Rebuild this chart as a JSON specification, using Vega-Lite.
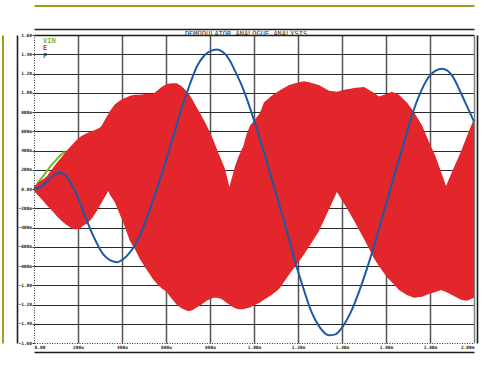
{
  "$schema": "https://vega.github.io/schema/vega-lite/v6.json",
  "width": 440,
  "height": 308,
  "autosize": {"type": "none"},
  "padding": {"left": 34, "top": 35, "right": 12, "bottom": 26},
  "background": "#ffffff",
  "title": {"text": "DEMODULATOR ANALOGUE ANALYSIS", "font": "DejaVu Sans Mono", "fontSize": 7, "fontWeight": "normal", "color": "#333333", "offset": 1, "dx": -8, "dy": 32.5, "anchor": "middle"},
  "config": {"view": {"stroke": null}},
  "datasets": {
    "vin": [
      {"t": 0, "v": 0.0, "series": "VIN"},
      {"t": 20, "v": 0.07, "series": "VIN"},
      {"t": 40, "v": 0.13, "series": "VIN"},
      {"t": 60, "v": 0.19, "series": "VIN"},
      {"t": 80, "v": 0.25, "series": "VIN"},
      {"t": 100, "v": 0.30, "series": "VIN"},
      {"t": 120, "v": 0.35, "series": "VIN"},
      {"t": 140, "v": 0.39, "series": "VIN"}
    ],
    "e": [
      {"t": 0, "hi": 0.02, "lo": -0.02, "series": "E"},
      {"t": 20, "hi": 0.07, "lo": -0.07, "series": "E"},
      {"t": 40, "hi": 0.10, "lo": -0.12, "series": "E"},
      {"t": 58, "hi": 0.13, "lo": -0.17, "series": "E"},
      {"t": 80, "hi": 0.20, "lo": -0.22, "series": "E"},
      {"t": 103, "hi": 0.27, "lo": -0.28, "series": "E"},
      {"t": 125, "hi": 0.33, "lo": -0.33, "series": "E"},
      {"t": 141, "hi": 0.38, "lo": -0.36, "series": "E"},
      {"t": 165, "hi": 0.44, "lo": -0.40, "series": "E"},
      {"t": 186, "hi": 0.49, "lo": -0.42, "series": "E"},
      {"t": 209, "hi": 0.54, "lo": -0.41, "series": "E"},
      {"t": 224, "hi": 0.56, "lo": -0.38, "series": "E"},
      {"t": 240, "hi": 0.58, "lo": -0.36, "series": "E"},
      {"t": 262, "hi": 0.60, "lo": -0.31, "series": "E"},
      {"t": 285, "hi": 0.62, "lo": -0.23, "series": "E"},
      {"t": 300, "hi": 0.64, "lo": -0.17, "series": "E"},
      {"t": 308, "hi": 0.66, "lo": -0.14, "series": "E"},
      {"t": 325, "hi": 0.73, "lo": -0.07, "series": "E"},
      {"t": 338, "hi": 0.78, "lo": -0.02, "series": "E"},
      {"t": 345, "hi": 0.81, "lo": -0.06, "series": "E"},
      {"t": 368, "hi": 0.88, "lo": -0.14, "series": "E"},
      {"t": 391, "hi": 0.92, "lo": -0.27, "series": "E"},
      {"t": 406, "hi": 0.94, "lo": -0.35, "series": "E"},
      {"t": 420, "hi": 0.95, "lo": -0.44, "series": "E"},
      {"t": 436, "hi": 0.97, "lo": -0.54, "series": "E"},
      {"t": 460, "hi": 0.98, "lo": -0.63, "series": "E"},
      {"t": 482, "hi": 0.98, "lo": -0.73, "series": "E"},
      {"t": 510, "hi": 0.99, "lo": -0.83, "series": "E"},
      {"t": 542, "hi": 0.99, "lo": -0.94, "series": "E"},
      {"t": 565, "hi": 1.03, "lo": -1.00, "series": "E"},
      {"t": 580, "hi": 1.06, "lo": -1.03, "series": "E"},
      {"t": 603, "hi": 1.09, "lo": -1.07, "series": "E"},
      {"t": 626, "hi": 1.10, "lo": -1.14, "series": "E"},
      {"t": 648, "hi": 1.10, "lo": -1.20, "series": "E"},
      {"t": 670, "hi": 1.07, "lo": -1.24, "series": "E"},
      {"t": 701, "hi": 1.00, "lo": -1.27, "series": "E"},
      {"t": 720, "hi": 0.93, "lo": -1.26, "series": "E"},
      {"t": 739, "hi": 0.85, "lo": -1.23, "series": "E"},
      {"t": 755, "hi": 0.79, "lo": -1.21, "series": "E"},
      {"t": 785, "hi": 0.66, "lo": -1.16, "series": "E"},
      {"t": 815, "hi": 0.51, "lo": -1.13, "series": "E"},
      {"t": 830, "hi": 0.42, "lo": -1.13, "series": "E"},
      {"t": 850, "hi": 0.31, "lo": -1.14, "series": "E"},
      {"t": 868, "hi": 0.21, "lo": -1.17, "series": "E"},
      {"t": 880, "hi": 0.10, "lo": -1.19, "series": "E"},
      {"t": 888, "hi": 0.02, "lo": -1.20, "series": "E"},
      {"t": 900, "hi": 0.12, "lo": -1.22, "series": "E"},
      {"t": 914, "hi": 0.24, "lo": -1.24, "series": "E"},
      {"t": 930, "hi": 0.34, "lo": -1.25, "series": "E"},
      {"t": 952, "hi": 0.45, "lo": -1.25, "series": "E"},
      {"t": 965, "hi": 0.56, "lo": -1.24, "series": "E"},
      {"t": 982, "hi": 0.66, "lo": -1.23, "series": "E"},
      {"t": 1000, "hi": 0.71, "lo": -1.21, "series": "E"},
      {"t": 1027, "hi": 0.79, "lo": -1.18, "series": "E"},
      {"t": 1045, "hi": 0.90, "lo": -1.15, "series": "E"},
      {"t": 1080, "hi": 0.97, "lo": -1.10, "series": "E"},
      {"t": 1114, "hi": 1.02, "lo": -1.04, "series": "E"},
      {"t": 1159, "hi": 1.08, "lo": -0.89, "series": "E"},
      {"t": 1205, "hi": 1.11, "lo": -0.75, "series": "E"},
      {"t": 1227, "hi": 1.12, "lo": -0.68, "series": "E"},
      {"t": 1250, "hi": 1.11, "lo": -0.60, "series": "E"},
      {"t": 1295, "hi": 1.08, "lo": -0.44, "series": "E"},
      {"t": 1341, "hi": 1.02, "lo": -0.21, "series": "E"},
      {"t": 1377, "hi": 1.01, "lo": -0.03, "series": "E"},
      {"t": 1409, "hi": 1.03, "lo": -0.15, "series": "E"},
      {"t": 1432, "hi": 1.04, "lo": -0.24, "series": "E"},
      {"t": 1455, "hi": 1.05, "lo": -0.33, "series": "E"},
      {"t": 1500, "hi": 1.06, "lo": -0.52, "series": "E"},
      {"t": 1545, "hi": 1.00, "lo": -0.72, "series": "E"},
      {"t": 1568, "hi": 0.96, "lo": -0.80, "series": "E"},
      {"t": 1605, "hi": 0.99, "lo": -0.92, "series": "E"},
      {"t": 1627, "hi": 1.01, "lo": -0.97, "series": "E"},
      {"t": 1659, "hi": 0.98, "lo": -1.05, "series": "E"},
      {"t": 1695, "hi": 0.90, "lo": -1.10, "series": "E"},
      {"t": 1727, "hi": 0.80, "lo": -1.13, "series": "E"},
      {"t": 1764, "hi": 0.66, "lo": -1.12, "series": "E"},
      {"t": 1795, "hi": 0.49, "lo": -1.09, "series": "E"},
      {"t": 1825, "hi": 0.34, "lo": -1.07, "series": "E"},
      {"t": 1850, "hi": 0.18, "lo": -1.05, "series": "E"},
      {"t": 1873, "hi": 0.03, "lo": -1.07, "series": "E"},
      {"t": 1900, "hi": 0.18, "lo": -1.10, "series": "E"},
      {"t": 1941, "hi": 0.39, "lo": -1.15, "series": "E"},
      {"t": 1968, "hi": 0.55, "lo": -1.16, "series": "E"},
      {"t": 2000, "hi": 0.73, "lo": -1.13, "series": "E"}
    ],
    "f": [
      {"t": 0, "v": 0.0, "series": "F"},
      {"t": 30, "v": 0.02, "series": "F"},
      {"t": 60, "v": 0.08, "series": "F"},
      {"t": 90, "v": 0.14, "series": "F"},
      {"t": 115, "v": 0.17, "series": "F"},
      {"t": 140, "v": 0.15, "series": "F"},
      {"t": 165, "v": 0.07, "series": "F"},
      {"t": 190, "v": -0.04, "series": "F"},
      {"t": 225, "v": -0.24, "series": "F"},
      {"t": 270, "v": -0.49, "series": "F"},
      {"t": 315, "v": -0.68, "series": "F"},
      {"t": 345, "v": -0.74, "series": "F"},
      {"t": 376, "v": -0.76, "series": "F"},
      {"t": 405, "v": -0.73, "series": "F"},
      {"t": 435, "v": -0.66, "series": "F"},
      {"t": 467, "v": -0.55, "series": "F"},
      {"t": 500, "v": -0.38, "series": "F"},
      {"t": 527, "v": -0.21, "series": "F"},
      {"t": 560, "v": 0.01, "series": "F"},
      {"t": 588, "v": 0.21, "series": "F"},
      {"t": 620, "v": 0.45, "series": "F"},
      {"t": 648, "v": 0.66, "series": "F"},
      {"t": 675, "v": 0.87, "series": "F"},
      {"t": 701, "v": 1.04, "series": "F"},
      {"t": 740, "v": 1.27, "series": "F"},
      {"t": 780, "v": 1.40, "series": "F"},
      {"t": 810, "v": 1.44, "series": "F"},
      {"t": 833, "v": 1.45, "series": "F"},
      {"t": 860, "v": 1.42, "series": "F"},
      {"t": 886, "v": 1.35, "series": "F"},
      {"t": 915, "v": 1.22, "series": "F"},
      {"t": 947, "v": 1.06, "series": "F"},
      {"t": 985, "v": 0.82, "series": "F"},
      {"t": 1023, "v": 0.55, "series": "F"},
      {"t": 1060, "v": 0.27, "series": "F"},
      {"t": 1100, "v": -0.05, "series": "F"},
      {"t": 1140, "v": -0.36, "series": "F"},
      {"t": 1180, "v": -0.70, "series": "F"},
      {"t": 1220, "v": -1.00, "series": "F"},
      {"t": 1260, "v": -1.27, "series": "F"},
      {"t": 1300, "v": -1.44, "series": "F"},
      {"t": 1340, "v": -1.52, "series": "F"},
      {"t": 1370, "v": -1.51, "series": "F"},
      {"t": 1400, "v": -1.44, "series": "F"},
      {"t": 1440, "v": -1.28, "series": "F"},
      {"t": 1480, "v": -1.05, "series": "F"},
      {"t": 1520, "v": -0.78, "series": "F"},
      {"t": 1560, "v": -0.48, "series": "F"},
      {"t": 1600, "v": -0.16, "series": "F"},
      {"t": 1640, "v": 0.16, "series": "F"},
      {"t": 1680, "v": 0.47, "series": "F"},
      {"t": 1720, "v": 0.78, "series": "F"},
      {"t": 1760, "v": 1.02, "series": "F"},
      {"t": 1800, "v": 1.18, "series": "F"},
      {"t": 1855, "v": 1.25, "series": "F"},
      {"t": 1900, "v": 1.18, "series": "F"},
      {"t": 1940, "v": 1.00, "series": "F"},
      {"t": 1970, "v": 0.85, "series": "F"},
      {"t": 2000, "v": 0.70, "series": "F"}
    ]
  },
  "resolve": {"axis": {"x": "independent", "y": "independent"}},
  "layer": [
    {
      "data": {"name": "f"},
      "mark": {"type": "point", "opacity": 0},
      "encoding": {
        "x": {"field": "t", "type": "quantitative", "scale": {"domain": [0, 2000], "nice": false, "zero": false},
          "axis": {"orient": "bottom", "offset": 9, "title": null, "labels": false, "ticks": false, "grid": false, "domain": true, "domainColor": "#1e1e1e", "domainWidth": 1.6}},
        "y": {"field": "v", "type": "quantitative", "scale": {"domain": [-1.6, 1.6], "nice": false, "zero": false},
          "axis": {"orient": "left", "offset": 17, "title": null, "labels": false, "ticks": false, "grid": false, "domain": true, "domainColor": "#1e1e1e", "domainWidth": 1.6}}
      }
    },
    {
      "data": {"name": "f"},
      "mark": {"type": "point", "opacity": 0},
      "encoding": {
        "x": {"field": "t", "type": "quantitative",
          "axis": {"orient": "top", "offset": 6, "title": null, "labels": false, "ticks": false, "grid": false, "domain": true, "domainColor": "#1e1e1e", "domainWidth": 1.6}},
        "y": {"field": "v", "type": "quantitative",
          "axis": {"orient": "right", "offset": 3, "title": null, "labels": false, "ticks": false, "grid": false, "domain": true, "domainColor": "#1e1e1e", "domainWidth": 1.6}}
      }
    },
    {
      "data": {"name": "f"},
      "mark": {"type": "point", "opacity": 0},
      "encoding": {
        "x": {"field": "t", "type": "quantitative",
          "axis": {"orient": "top", "offset": 29.5, "title": null, "labels": false, "ticks": false, "grid": false, "domain": true, "domainColor": "#9f9f1c", "domainWidth": 2}},
        "y": {"field": "v", "type": "quantitative",
          "axis": {"orient": "left", "offset": 31.5, "title": null, "labels": false, "ticks": false, "grid": false, "domain": true, "domainColor": "#9f9f1c", "domainWidth": 2}}
      }
    },
    {
      "data": {"name": "vin"},
      "mark": {"type": "line", "strokeWidth": 2, "interpolate": "monotone"},
      "encoding": {
        "x": {"field": "t", "type": "quantitative",
          "axis": {"orient": "bottom", "title": null, "values": [0, 200, 400, 600, 800, 1000, 1200, 1400, 1600, 1800, 2000],
            "labelExpr": "datum.value == 0 ? '0.00' : datum.value < 999 ? format(datum.value, 'd') + 'u' : format(datum.value / 1000, '.2f') + 'm'",
            "labelFont": "DejaVu Sans Mono", "labelFontSize": 4.5, "labelFontWeight": "bold", "labelColor": "#222222", "labelPadding": 1.5, "labelFlush": true, "labelOverlap": false,
            "ticks": false, "grid": false, "domain": true, "domainColor": "#333333", "domainWidth": 1, "domainDash": [1, 1.5]}},
        "y": {"field": "v", "type": "quantitative",
          "axis": {"orient": "left", "title": null, "values": [-1.6, -1.4, -1.2, -1.0, -0.8, -0.6, -0.4, -0.2, 0, 0.2, 0.4, 0.6, 0.8, 1.0, 1.2, 1.4, 1.6],
            "labelExpr": "datum.value == 0 ? '0.00' : abs(datum.value) > 0.99 ? format(datum.value, '.2f') : format(round(datum.value * 1000), 'd') + 'm'",
            "labelFont": "DejaVu Sans Mono", "labelFontSize": 4.5, "labelFontWeight": "bold", "labelColor": "#222222", "labelPadding": 0.5, "labelOverlap": false,
            "ticks": true, "tickSize": 2, "tickColor": "#333333", "tickWidth": 1, "grid": false, "domain": true, "domainColor": "#333333", "domainWidth": 1, "domainDash": [1, 1.5]}},
        "color": {"field": "series", "type": "nominal", "scale": {"domain": ["VIN", "E", "F"], "range": ["#77b52a", "#e3262b", "#1c5aa6"]},
          "legend": {"orient": "top-left", "offset": 2, "title": null, "symbolSize": 0, "symbolOpacity": 0, "symbolStrokeWidth": 0, "labelOffset": 0,
            "labelFont": "DejaVu Sans Mono", "labelFontSize": 7, "labelFontWeight": "bold", "rowPadding": -0.5, "padding": 0,
            "encode": {"labels": {"update": {"fill": {"scale": "color", "field": "value"}}}}}}
      }
    },
    {
      "data": {"name": "e"},
      "mark": {"type": "area", "opacity": 1},
      "encoding": {
        "x": {"field": "t", "type": "quantitative",
          "axis": {"orient": "bottom", "title": null, "values": [200, 400, 600, 800, 1000, 1200, 1400, 1600, 1800], "labels": false, "ticks": false, "domain": false,
            "grid": true, "gridColor": "#555555", "gridWidth": 1.5, "gridOpacity": 1}},
        "y": {"field": "hi", "type": "quantitative",
          "axis": {"orient": "left", "title": null, "values": [-1.4, -1.2, -1.0, -0.8, -0.6, -0.4, -0.2, 0, 0.2, 0.4, 0.6, 0.8, 1.0, 1.2, 1.4], "labels": false, "ticks": false, "domain": false,
            "grid": true, "gridColor": "#2a2a2a", "gridWidth": 1, "gridOpacity": 1}},
        "y2": {"field": "lo"},
        "color": {"field": "series", "type": "nominal"}
      }
    },
    {
      "data": {"name": "f"},
      "mark": {"type": "line", "strokeWidth": 2, "interpolate": "monotone"},
      "encoding": {
        "x": {"field": "t", "type": "quantitative",
          "axis": {"orient": "top", "title": null, "labels": false, "ticks": false, "grid": false, "domain": true, "domainColor": "#1a1a1a", "domainWidth": 1.5}},
        "y": {"field": "v", "type": "quantitative",
          "axis": {"orient": "right", "title": null, "labels": false, "ticks": false, "grid": false, "domain": true, "domainColor": "#808080", "domainWidth": 1.5}},
        "color": {"field": "series", "type": "nominal"}
      }
    }
  ]
}
